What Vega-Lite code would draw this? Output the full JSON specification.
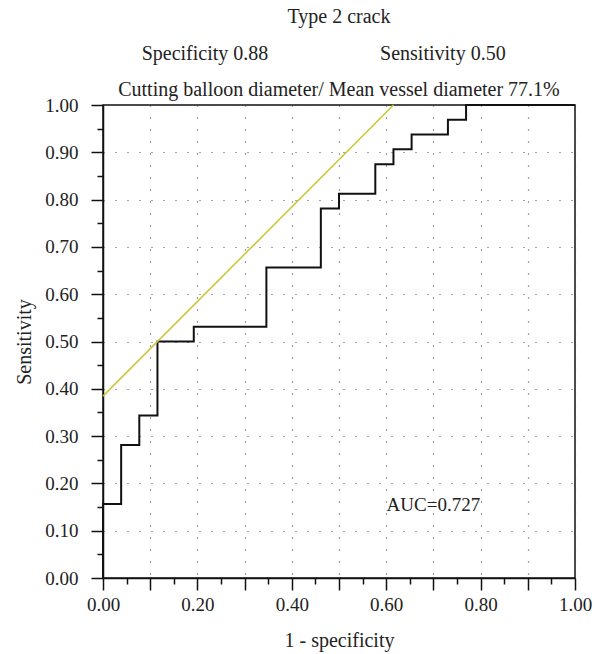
{
  "$schema": "https://vega.github.io/schema/vega-lite/v6.json",
  "width": 472,
  "height": 473,
  "autosize": "none",
  "padding": {"left": 103, "top": 105, "right": 22, "bottom": 76},
  "background": "white",
  "config": {
    "font": "Liberation Serif",
    "view": {"stroke": "#111", "strokeWidth": 1.5},
    "axis": {
      "labelFont": "Liberation Serif",
      "titleFont": "Liberation Serif",
      "labelFontSize": 19,
      "titleFontSize": 20,
      "titleFontWeight": "normal",
      "labelColor": "#222",
      "titleColor": "#222",
      "domainColor": "#111",
      "domainWidth": 1.5,
      "tickColor": "#111",
      "tickWidth": 1.5,
      "gridColor": "#444",
      "gridDash": [1, 11],
      "gridWidth": 1.2,
      "gridOpacity": 1,
      "labelFlush": false
    },
    "title": {
      "font": "Liberation Serif",
      "fontSize": 20,
      "fontWeight": "normal",
      "color": "#222",
      "subtitleFont": "Liberation Serif",
      "subtitleFontSize": 20,
      "subtitleColor": "#222"
    }
  },
  "title": {
    "text": "Type 2 crack",
    "subtitle": "Cutting balloon diameter/ Mean vessel diameter 77.1%",
    "anchor": "middle",
    "frame": "group",
    "offset": -56,
    "subtitlePadding": 53
  },
  "resolve": {"axis": {"x": "independent", "y": "independent"}},
  "layer": [
    {
      "data": {"values": [
        {"order": 0, "fpr": 0, "tpr": 0},
        {"order": 1, "fpr": 0, "tpr": 0.15625},
        {"order": 2, "fpr": 0.03846, "tpr": 0.28125},
        {"order": 3, "fpr": 0.07692, "tpr": 0.34375},
        {"order": 4, "fpr": 0.11538, "tpr": 0.5},
        {"order": 5, "fpr": 0.19231, "tpr": 0.53125},
        {"order": 6, "fpr": 0.34615, "tpr": 0.65625},
        {"order": 7, "fpr": 0.46154, "tpr": 0.78125},
        {"order": 8, "fpr": 0.5, "tpr": 0.8125},
        {"order": 9, "fpr": 0.57692, "tpr": 0.875},
        {"order": 10, "fpr": 0.61538, "tpr": 0.90625},
        {"order": 11, "fpr": 0.65385, "tpr": 0.9375},
        {"order": 12, "fpr": 0.73077, "tpr": 0.96875},
        {"order": 13, "fpr": 0.76923, "tpr": 1},
        {"order": 14, "fpr": 1, "tpr": 1}
      ]},
      "mark": {"type": "line", "interpolate": "step-after", "color": "#111", "strokeWidth": 2},
      "encoding": {
        "x": {
          "field": "fpr", "type": "quantitative",
          "scale": {"domain": [0, 1], "nice": false, "zero": false},
          "axis": {
            "orient": "bottom",
            "title": "1 - specificity",
            "values": [0, 0.1, 0.2, 0.3, 0.4, 0.5, 0.6, 0.7, 0.8, 0.9, 1],
            "labelExpr": "round(datum.value*10)%2==0 ? format(datum.value, '.2f') : ''",
            "tickSize": 12,
            "labelPadding": 5,
            "titlePadding": 16,
            "grid": true
          }
        },
        "y": {
          "field": "tpr", "type": "quantitative",
          "scale": {"domain": [0, 1], "nice": false, "zero": false},
          "axis": {
            "orient": "left",
            "title": "Sensitivity",
            "values": [0, 0.1, 0.2, 0.3, 0.4, 0.5, 0.6, 0.7, 0.8, 0.9, 1],
            "format": ".2f",
            "tickSize": 12,
            "labelPadding": 13,
            "titlePadding": 10,
            "grid": true
          }
        },
        "order": {"field": "order"}
      }
    },
    {
      "data": {"values": [
        {"fpr": 0, "tpr": 0.3846},
        {"fpr": 0.6154, "tpr": 1}
      ]},
      "mark": {"type": "line", "color": "#c8c83c", "strokeWidth": 1.6},
      "encoding": {
        "x": {
          "field": "fpr", "type": "quantitative",
          "axis": {
            "orient": "bottom",
            "title": null,
            "values": [0.05, 0.15, 0.25, 0.35, 0.45, 0.55, 0.65, 0.75, 0.85, 0.95],
            "labels": false,
            "domain": false,
            "grid": false,
            "tickSize": 6
          }
        },
        "y": {
          "field": "tpr", "type": "quantitative",
          "axis": {
            "orient": "left",
            "title": null,
            "values": [0.05, 0.15, 0.25, 0.35, 0.45, 0.55, 0.65, 0.75, 0.85, 0.95],
            "labels": false,
            "domain": false,
            "grid": false,
            "tickSize": 6
          }
        }
      }
    },
    {
      "data": {"values": [{"label": "AUC=0.727"}]},
      "mark": {"type": "text", "fontSize": 19, "font": "Liberation Serif", "color": "#222", "align": "center", "baseline": "middle"},
      "encoding": {
        "x": {"datum": 0.70, "type": "quantitative", "axis": null},
        "y": {"datum": 0.155, "type": "quantitative", "axis": null},
        "text": {"field": "label"}
      }
    },
    {
      "data": {"values": [{"label": "Specificity 0.88"}]},
      "mark": {"type": "text", "fontSize": 20, "font": "Liberation Serif", "color": "#222", "align": "center", "baseline": "middle"},
      "encoding": {
        "x": {"datum": 0.216, "type": "quantitative", "axis": null},
        "y": {"datum": 1.107, "type": "quantitative", "axis": null},
        "text": {"field": "label"}
      }
    },
    {
      "data": {"values": [{"label": "Sensitivity 0.50"}]},
      "mark": {"type": "text", "fontSize": 20, "font": "Liberation Serif", "color": "#222", "align": "center", "baseline": "middle"},
      "encoding": {
        "x": {"datum": 0.72, "type": "quantitative", "axis": null},
        "y": {"datum": 1.107, "type": "quantitative", "axis": null},
        "text": {"field": "label"}
      }
    }
  ]
}
